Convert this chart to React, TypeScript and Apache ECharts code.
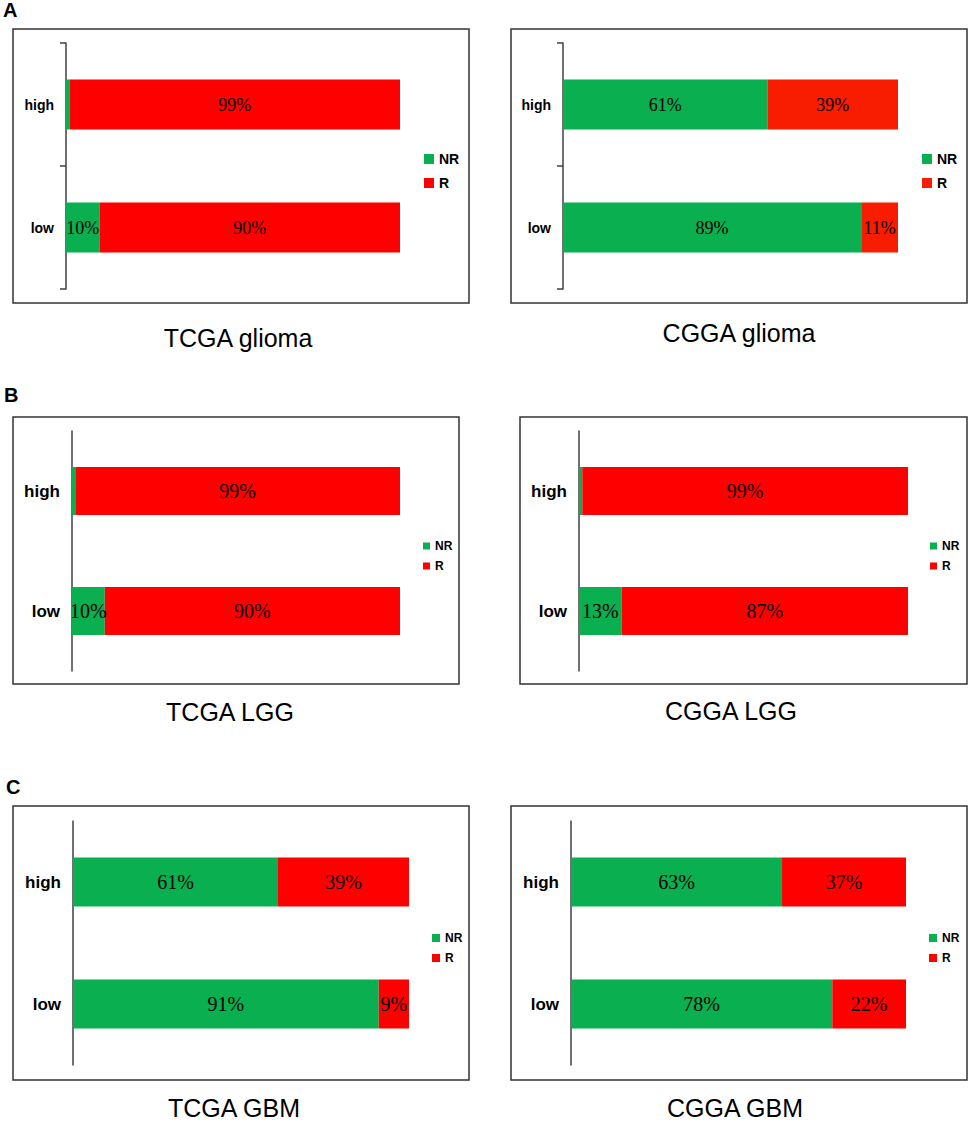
import React, { useEffect, useRef } from "react";
import * as echarts from "echarts";

// ---- data ----
const categories = ["low", "high"];
const seriesNames = ["NR", "R"];
const panelTitles = ["TCGA glioma", "CGGA glioma", "TCGA LGG", "CGGA LGG", "TCGA GBM", "CGGA GBM"];
const panelLetters = ["A", "B", "C"];

const tcgaGliomaNR = [10, 1];
const tcgaGliomaR = [90, 99];
const cggaGliomaNR = [89, 61];
const cggaGliomaR = [11, 39];
const tcgaLggNR = [10, 1];
const tcgaLggR = [90, 99];
const cggaLggNR = [13, 1];
const cggaLggR = [87, 99];
const tcgaGbmNR = [91, 61];
const tcgaGbmR = [9, 39];
const cggaGbmNR = [78, 63];
const cggaGbmR = [22, 37];

const nrValues = [tcgaGliomaNR, cggaGliomaNR, tcgaLggNR, cggaLggNR, tcgaGbmNR, cggaGbmNR];
const rValues = [tcgaGliomaR, cggaGliomaR, tcgaLggR, cggaLggR, tcgaGbmR, cggaGbmR];

// ---- layout / style ----
const GREEN = "#0AAF4F";
const RED = "#FF0000";
const layout = [
  { box: [13, 29, 456, 274], grid: [66, 43, 334, 246], bar: 50, ticks: true, cat: 14, lab: 18, leg: [419, 147], legIcon: 10, legFont: 14, legGap: 10, title: [238, 338], red: RED },
  { box: [511, 29, 456, 274], grid: [563, 43, 335, 246], bar: 50, ticks: true, cat: 14, lab: 18, leg: [917, 147], legIcon: 10, legFont: 14, legGap: 10, title: [739, 333], red: "#F81C00" },
  { box: [13, 417, 446, 267], grid: [72, 431, 328, 240], bar: 48, ticks: false, cat: 17, lab: 20, leg: [418, 535], legIcon: 7, legFont: 12, legGap: 8, title: [230, 712], red: RED },
  { box: [520, 417, 447, 267], grid: [579, 431, 329, 240], bar: 48, ticks: false, cat: 17, lab: 20, leg: [925, 535], legIcon: 7, legFont: 12, legGap: 8, title: [731, 711], red: RED },
  { box: [13, 806, 456, 274], grid: [73, 821, 336, 244], bar: 49, ticks: false, cat: 17, lab: 20, leg: [427, 927], legIcon: 8, legFont: 12, legGap: 8, title: [234, 1108], red: RED },
  { box: [511, 806, 456, 274], grid: [571, 821, 335, 244], bar: 49, ticks: false, cat: 17, lab: 20, leg: [924, 927], legIcon: 8, legFont: 12, legGap: 8, title: [735, 1108], red: RED },
];
const letterPos = [
  [3, 10],
  [4, 395],
  [6, 787],
];

export default function App() {
  const ref = useRef<HTMLDivElement>(null);
  useEffect(() => {
    if (!ref.current) return;
    const chart = echarts.init(ref.current, undefined, { renderer: "svg" });
    const grids: any[] = [];
    const xAxes: any[] = [];
    const yAxes: any[] = [];
    const series: any[] = [];
    const legends: any[] = [];
    const graphics: any[] = [];

    layout.forEach((L, i) => {
      grids.push({ left: L.grid[0], top: L.grid[1], width: L.grid[2], height: L.grid[3] });
      xAxes.push({ type: "value", gridIndex: i, min: 0, max: 100, show: false });
      yAxes.push({
        type: "category",
        gridIndex: i,
        data: categories,
        axisLine: { show: true, lineStyle: { color: "#404040", width: 1.5 } },
        axisTick: { show: L.ticks, length: 6, lineStyle: { color: "#404040", width: 1.5 } },
        axisLabel: {
          color: "#000",
          fontWeight: "bold",
          fontSize: L.cat,
          fontFamily: "Liberation Sans, Arial, sans-serif",
          margin: 12,
        },
        splitLine: { show: false },
      });
      const colors = [GREEN, L.red];
      [nrValues[i], rValues[i]].forEach((vals, s) => {
        series.push({
          type: "bar",
          name: seriesNames[s],
          xAxisIndex: i,
          yAxisIndex: i,
          stack: "p" + i,
          barWidth: L.bar,
          data: vals,
          itemStyle: { color: colors[s] },
          label: {
            show: true,
            position: "inside",
            color: "#000",
            fontSize: L.lab,
            fontFamily: "Liberation Serif, Times New Roman, serif",
            formatter: (p: any) => (p.value >= 5 ? p.value + "%" : ""),
          },
          emphasis: { disabled: true },
        });
      });
      legends.push({
        orient: "vertical",
        left: L.leg[0],
        top: L.leg[1],
        itemWidth: L.legIcon,
        itemHeight: L.legIcon,
        itemGap: L.legGap,
        icon: "rect",
        selectedMode: false,
        textStyle: {
          color: "#000",
          fontWeight: "bold",
          fontSize: L.legFont,
          lineHeight: L.legFont,
          fontFamily: "Liberation Sans, Arial, sans-serif",
        },
        data: seriesNames.map((n, s) => ({ name: n, itemStyle: { color: colors[s] } })),
      });
      graphics.push({
        type: "rect",
        shape: { x: L.box[0], y: L.box[1], width: L.box[2], height: L.box[3] },
        style: { fill: "none", stroke: "#333", lineWidth: 1.5 },
        silent: true,
      });
      graphics.push({
        type: "text",
        x: L.title[0],
        y: L.title[1],
        style: {
          text: panelTitles[i],
          font: "25px Liberation Sans, Arial, sans-serif",
          fill: "#000",
          align: "center",
          verticalAlign: "middle",
        },
      });
    });
    panelLetters.forEach((t, k) => {
      graphics.push({
        type: "text",
        x: letterPos[k][0],
        y: letterPos[k][1],
        style: {
          text: t,
          font: "bold 20px Liberation Sans, Arial, sans-serif",
          fill: "#000",
          align: "left",
          verticalAlign: "middle",
        },
      });
    });

    chart.setOption({
      animation: false,
      backgroundColor: "#fff",
      grid: grids,
      xAxis: xAxes,
      yAxis: yAxes,
      series,
      legend: legends,
      graphic: graphics,
    });
    return () => chart.dispose();
  }, []);
  return <div ref={ref} style={{ position: "absolute", left: 0, top: 0, width: 969, height: 1122 }} />;
}
